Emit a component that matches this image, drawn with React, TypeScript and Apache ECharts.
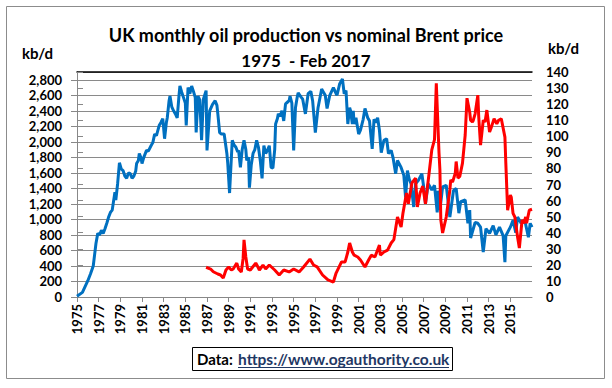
import React, { useEffect, useRef } from "react";
import * as echarts from "echarts";

// month index (0 = start of 1975 series, 504 = end of axis)
const prodMonths = [0,6,12,15,18,21,23,25,27,29,31,33,35,37,39,42,43,45,47,49,51,53,55,57,59,61,63,65,66,68,69,71,72,74,77,79,82,84,86,88,91,93,95,97,99,100,102,103,105,107,109,111,113,114,116,118,120,121,123,125,127,129,131,132,134,136,138,140,143,144,147,150,153,155,156,158,160,163,166,167,169,171,172,174,176,178,179,181,183,185,187,188,190,191,193,195,197,199,201,203,205,207,209,211,213,215,217,219,220,222,223,225,227,229,231,233,235,236,238,240,242,244,245,248,250,253,256,259,261,264,267,271,273,275,277,280,284,287,288,291,294,296,298,300,302,303,305,306,307,309,312,314,317,319,322,324,327,329,331,333,335,337,340,343,345,348,350,353,355,359,362,364,366,368,370,373,375,378,382,384,386,389,391,393,396,399,400,402,405,409,413,417,420,423,425,430,433,435,436,441,444,447,450,453,457,461,464,468,472,474,475,480,483,486,488,492,496,500,502,504];
const prodValues = [10,60,210,300,400,690,820,800,860,820,880,950,1030,1090,1120,1350,1250,1460,1730,1650,1630,1560,1530,1600,1590,1530,1560,1620,1720,1760,1850,1790,1720,1800,1890,1880,1950,1990,2100,2080,2210,2250,2300,2040,2250,2310,2530,2590,2450,2400,2360,2310,2600,2720,2640,2570,2500,2210,2700,2620,2720,2650,2570,2120,2590,2540,2020,2550,2660,1890,2400,2480,2530,2470,2360,2120,2100,2100,1850,1720,1340,1800,2020,1960,1930,1870,1890,1670,1900,2020,1900,1760,1800,1410,1700,1850,1900,2020,1930,1760,1530,1950,1850,1890,1950,1670,1660,1900,2230,2300,2360,2330,2400,2270,2490,2510,2530,2590,2500,1890,2440,2580,2630,2580,2550,2360,2620,2650,2530,2120,2440,2680,2640,2600,2430,2600,2700,2620,2600,2750,2810,2620,2660,2230,2440,2400,2230,2400,2230,2310,2100,2150,2290,2430,2310,2270,1910,2290,2250,2310,2150,1860,2020,2040,1850,1890,1800,1590,1760,1670,1570,1280,1630,1520,1460,1160,1460,1500,1590,1420,1200,1460,1420,1380,1440,1090,1370,1120,1420,1440,1030,1370,1400,1080,1230,1250,950,1120,760,960,950,900,580,880,820,920,800,900,790,450,790,900,990,830,1030,950,990,770,950,900];

const brentMonths = [143,148,151,156,159,162,165,168,171,173,177,179,182,184,185,187,189,192,198,201,202,206,209,213,219,224,229,235,240,246,251,258,262,266,272,278,284,287,293,297,300,302,305,307,311,314,319,323,326,330,335,336,340,344,348,351,355,359,361,365,367,371,375,377,380,383,386,390,393,396,398,401,402,403,405,409,413,414,416,419,420,422,424,427,430,432,435,436,438,439,441,444,445,447,450,452,454,457,459,462,465,467,470,474,475,477,480,481,483,485,488,490,493,495,497,498,501,504];
const brentValues = [18.5,17.4,15.7,14.3,13.7,11.8,16.8,18.7,16.8,17.4,21.1,17.4,15.6,24,35.5,24.9,17.4,16.8,21.1,18,16.8,19.9,17.4,19.9,16.8,13.7,16.8,15.6,17.4,15.6,18.7,23.6,19.9,18.7,13.7,10.6,9.3,14.9,21.8,21.8,28,33.6,28,26,24.9,23,18.7,23,26,24.9,32.3,26,28,29.2,33.6,35.7,49.8,43.5,52,64.7,58,71,74,56,64.7,69,58,77,91.5,97.9,133,89.6,79,47.9,39.8,49.8,66.6,72.8,71.5,77,84.3,74,75,83.3,100.8,123.7,115,110,108.9,110,114,125.6,112,94.5,110,108.9,116.3,102.6,105.7,110.9,107.8,110,110.9,99.5,83.3,54,63.4,62.2,52,49.8,37.4,30.5,47.9,45.9,49.8,45.9,54,54.6];

const leftTicks = { min: 0, max: 2900, interval: 200 };
const rightTicks = { min: 0, max: 140, interval: 10 };
const startYear = 1975;

const FONT = "Lato";

export default function App() {
  const ref = useRef<HTMLDivElement>(null);
  useEffect(() => {
    if (!ref.current) return;
    const chart = echarts.init(ref.current, undefined, { renderer: "svg" });
    const prodData = prodMonths.map((m, i) => [m, prodValues[i]]);
    const brentData = brentMonths.map((m, i) => [m, brentValues[i]]);
    const labelStyle = { color: "#000", fontFamily: FONT, fontWeight: "bold" as const, fontSize: 13 };
    chart.setOption({
      animation: false,
      backgroundColor: "#fff",
      title: [
        {
          text: "UK monthly oil production vs nominal Brent price",
          left: "center",
          top: 21,
          textStyle: { fontFamily: FONT, fontWeight: "bold", fontSize: 18, color: "#000" },
        },
        {
          text: "1975  - Feb 2017",
          left: "center",
          top: 47,
          textStyle: { fontFamily: FONT, fontWeight: "bold", fontSize: 17, color: "#000" },
        },
      ],
      grid: { left: 77, right: 80, top: 72, bottom: 91 },
      xAxis: [
        {
          type: "value",
          min: 0,
          max: 504,
          interval: 24,
          position: "bottom",
          axisLine: { lineStyle: { color: "#888", width: 1 } },
          axisTick: { show: true, length: 5, lineStyle: { color: "#888" } },
          splitLine: { show: false },
          axisLabel: {
            ...labelStyle,
            rotate: 90,
            margin: 7,
            showMaxLabel: false,
            formatter: (v: number) => String(startYear + v / 12),
          },
        },
        {
          type: "value",
          min: 0,
          max: 504,
          position: "top",
          axisLine: { show: true, onZero: false, lineStyle: { color: "#000", width: 1.5 } },
          axisTick: { show: false },
          axisLabel: { show: false },
          splitLine: { show: false },
        },
      ],
      yAxis: [
        {
          type: "value",
          ...leftTicks,
          position: "left",
          axisLine: { show: true, lineStyle: { color: "#888" } },
          axisTick: { show: true, length: 6, lineStyle: { color: "#888" } },
          splitLine: { show: true, lineStyle: { color: "#8a8a8a", width: 1 } },
          axisLabel: {
            ...labelStyle,
            margin: 15,
            showMaxLabel: false,
            formatter: (v: number) => v.toLocaleString("en-US"),
          },
        },
        {
          type: "value",
          ...rightTicks,
          position: "right",
          axisLine: { show: true, lineStyle: { color: "#888" } },
          axisTick: { show: true, length: 6, lineStyle: { color: "#888" } },
          splitLine: { show: false },
          axisLabel: { ...labelStyle, margin: 14 },
        },
      ],
      series: [
        {
          name: "Production",
          type: "line",
          xAxisIndex: 0,
          yAxisIndex: 0,
          data: prodData,
          showSymbol: false,
          lineStyle: { color: "#0070C0", width: 3 },
          itemStyle: { color: "#0070C0" },
        },
        {
          name: "Brent",
          type: "line",
          xAxisIndex: 0,
          yAxisIndex: 1,
          data: brentData,
          showSymbol: false,
          lineStyle: { color: "#FF0000", width: 3 },
          itemStyle: { color: "#FF0000" },
        },
      ],
      graphic: [
        {
          type: "rect",
          shape: { x: 6.5, y: 6.5, width: 598, height: 372 },
          style: { fill: "none", stroke: "#8c8c8c", lineWidth: 1 },
          silent: true,
        },
        {
          type: "text",
          x: 22,
          y: 45,
          style: { text: "kb/d", fontFamily: FONT, fontWeight: "bold", fontSize: 15, fill: "#000" },
        },
        {
          type: "text",
          x: 548,
          y: 40,
          style: { text: "kb/d", fontFamily: FONT, fontWeight: "bold", fontSize: 15, fill: "#000" },
        },
        {
          type: "rect",
          shape: { x: 192.5, y: 347.5, width: 260, height: 23 },
          style: { fill: "#fff", stroke: "#000", lineWidth: 1 },
        },
        {
          type: "text",
          x: 197,
          y: 351,
          style: { text: "Data:", fontFamily: FONT, fontWeight: "bold", fontSize: 15, fill: "#000" },
        },
        {
          type: "text",
          x: 238,
          y: 351,
          style: {
            text: "https://www.ogauthority.co.uk",
            fontFamily: FONT,
            fontWeight: "bold",
            fontSize: 15.5,
            fill: "#1F3864",
          },
        },
        {
          type: "line",
          shape: { x1: 238, y1: 367.5, x2: 449, y2: 367.5 },
          style: { stroke: "#1F3864", lineWidth: 1 },
        },
      ],
    });
    return () => chart.dispose();
  }, []);
  return (
    <div
      ref={ref}
      style={{ position: "fixed", left: 0, top: 0, width: 612, height: 388, background: "#fff" }}
    />
  );
}
